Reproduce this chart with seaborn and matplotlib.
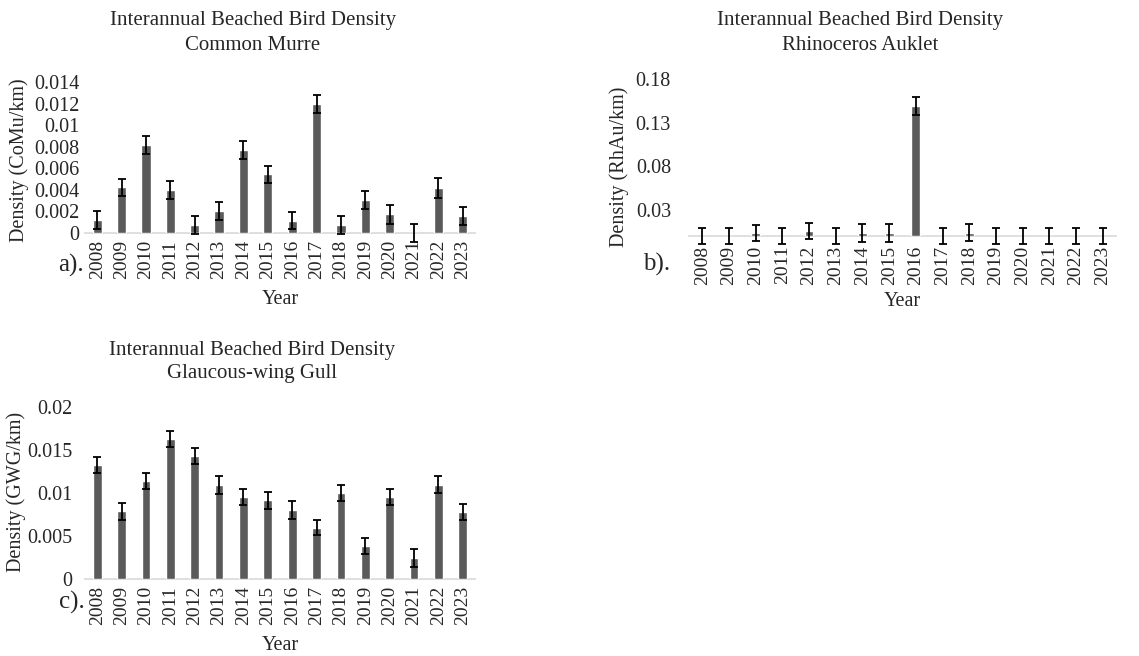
import matplotlib
matplotlib.use("Agg")
import matplotlib.pyplot as plt
import seaborn as sns
import pandas as pd

years = [str(y) for y in range(2008, 2024)]

comu_vals = [0.00117, 0.00422, 0.00815, 0.00400, 0.00077, 0.00206, 0.00769, 0.00545,
             0.00114, 0.01197, 0.00074, 0.00305, 0.00172, 0.00000, 0.00418, 0.00157]
comu_err = [0.00083, 0.00080, 0.00087, 0.00083, 0.00083, 0.00084, 0.00083, 0.00080,
            0.00080, 0.00083, 0.00083, 0.00085, 0.00086, 0.00083, 0.00090, 0.00086]

rhau_vals = [0.0, 0.0, 0.0034, 0.0, 0.0057, 0.0, 0.0034, 0.0034,
             0.149, 0.0, 0.0038, 0.0, 0.0, 0.0, 0.0, 0.0]
rhau_err = [0.0095, 0.0095, 0.0096, 0.0095, 0.0094, 0.0095, 0.0100, 0.0100,
            0.0098, 0.0095, 0.0098, 0.0095, 0.0093, 0.0095, 0.0093, 0.0095]

gwg_vals = [0.01322, 0.00787, 0.01140, 0.01632, 0.01426, 0.01093, 0.00950, 0.00915,
            0.00802, 0.00597, 0.00996, 0.00380, 0.00957, 0.00244, 0.01097, 0.00779]
gwg_err = [0.00093, 0.00100, 0.00093, 0.00093, 0.00094, 0.00100, 0.00093, 0.00097,
           0.00100, 0.00089, 0.00093, 0.00093, 0.00093, 0.00105, 0.00097, 0.00097]

titles = [("Interannual Beached Bird Density", "Common Murre"),
          ("Interannual Beached Bird Density", "Rhinoceros Auklet"),
          ("Interannual Beached Bird Density", "Glaucous-wing Gull")]
ylabels = ["Density (CoMu/km)", "Density (RhAu/km)", "Density (GWG/km)"]
panel_tags = ["a).", "b).", "c)."]
yticks_a = [0, 0.002, 0.004, 0.006, 0.008, 0.01, 0.012, 0.014]
ytick_labels_a = ["0", "0.002", "0.004", "0.006", "0.008", "0.01", "0.012", "0.014"]
yticks_b = [0.03, 0.08, 0.13, 0.18]
ytick_labels_b = ["0.03", "0.08", "0.13", "0.18"]
yticks_c = [0, 0.005, 0.01, 0.015, 0.02]
ytick_labels_c = ["0", "0.005", "0.01", "0.015", "0.02"]

sns.set_theme(style="white")
plt.rcParams["font.family"] = ["Liberation Serif", "DejaVu Serif"]

W, H = 1139, 656
fig = plt.figure(figsize=(W / 100, H / 100), dpi=100)
fig.patch.set_facecolor("white")

def px(x, y):
    return x / W, 1 - y / H

BAR = "#5a5a5a"

def make_panel(rect, vals, errs, ylim, yticks, ylabs, width, ypad, xpad,
               title, title_x, title_y, ylab, ylab_xy, tag, tag_xy, year_y):
    l, t, r, b = rect
    ax = fig.add_axes([l / W, 1 - b / H, (r - l) / W, (b - t) / H])
    df = pd.DataFrame({"Year": years, "Density": vals})
    sns.barplot(data=df, x="Year", y="Density", color=BAR, width=width,
                saturation=1, ax=ax, zorder=2)
    ax.errorbar(range(len(years)), vals, yerr=errs, fmt="none", ecolor="black",
                elinewidth=1.3, capsize=3, capthick=1.3, zorder=3, clip_on=False)
    ax.set_ylim(*ylim)
    ax.set_xlim(-0.5, len(years) - 0.5)
    ax.set_yticks(yticks)
    ax.set_yticklabels(ylabs, fontsize=14.5)
    ax.tick_params(axis="y", length=0, pad=ypad)
    ax.tick_params(axis="x", length=0, pad=xpad, labelrotation=90, labelsize=14)
    for s in ["top", "right", "left"]:
        ax.spines[s].set_visible(False)
    ax.spines["bottom"].set_color("#d9d9d9")
    ax.spines["bottom"].set_linewidth(1.2)
    ax.spines["bottom"].set_zorder(1)
    ax.set_xlabel("")
    ax.set_ylabel("")
    ax.set_facecolor("white")
    ax.grid(False)
    for i, line in enumerate(title):
        fig.text(*px(title_x, title_y[i]), line, ha="center", va="center", fontsize=15)
    fig.text(*px(*ylab_xy), ylab, rotation=90, ha="center", va="center", fontsize=14.5)
    fig.text(*px(*tag_xy), tag, ha="center", va="center", fontsize=18)
    fig.text(*px((l + r) / 2, year_y), "Year", ha="center", va="center", fontsize=14.5)
    return ax

make_panel((85, 82, 475, 233), comu_vals, comu_err, (0, 0.014), yticks_a, ytick_labels_a,
           0.38, 4, 5, titles[0], 253, (21, 45), ylabels[0], (19, 160), panel_tags[0], (71, 265), 300)
make_panel((689, 79, 1116, 236), rhau_vals, rhau_err, (0, 0.18), yticks_b, ytick_labels_b,
           0.33, 13, 7, titles[1], 860, (20, 45), ylabels[1], (619, 167), panel_tags[1], (657, 264), 301)
make_panel((85, 407, 475, 579), gwg_vals, gwg_err, (0, 0.02), yticks_c, ytick_labels_c,
           0.36, 9, 5, titles[2], 252, (350, 374), ylabels[2], (16, 492), panel_tags[2], (72, 602), 645)

fig.savefig("out.png", dpi=100, facecolor="white")
